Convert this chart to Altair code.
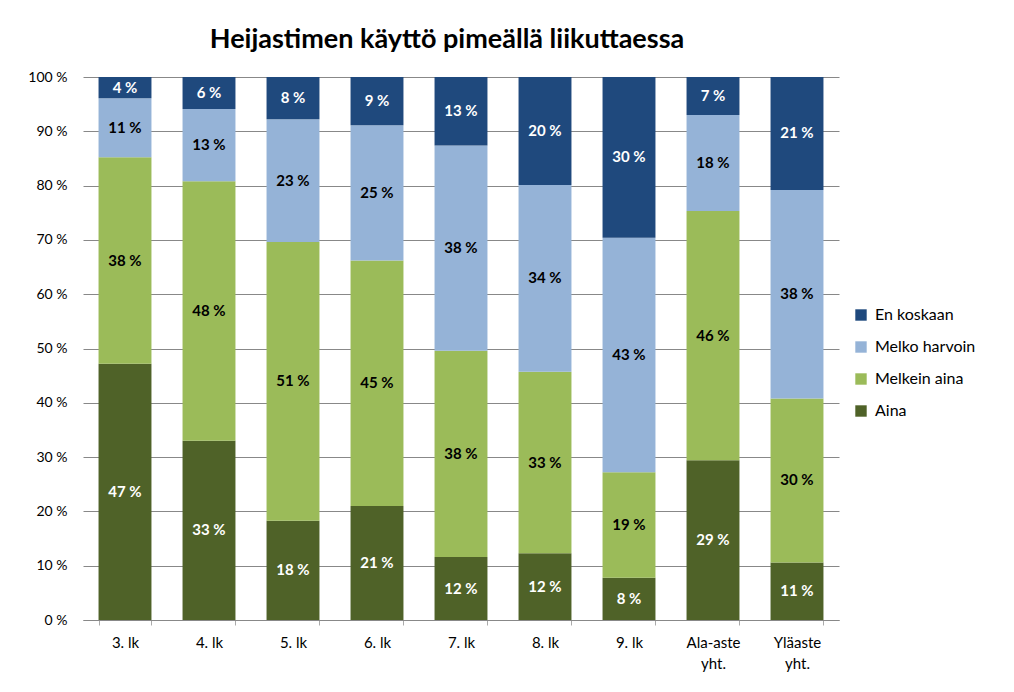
import altair as alt
import pandas as pd

categories = ["3. lk", "4. lk", "5. lk", "6. lk", "7. lk", "8. lk", "9. lk",
              "Ala-aste yht.", "Yläaste yht."]
series = ["En koskaan", "Melko harvoin", "Melkein aina", "Aina"]
colors = ["#1F497D", "#95B3D7", "#9BBB59", "#4F6228"]
text_colors = ["white", "black", "black", "white"]

aina = [47.2, 33.0, 18.3, 21.0, 11.6, 12.3, 7.8, 29.4, 10.6]
melkein_aina = [38.0, 47.8, 51.3, 45.2, 38.0, 33.4, 19.4, 45.9, 30.2]
melko_harvoin = [10.9, 13.3, 22.6, 24.9, 37.8, 34.4, 43.2, 17.7, 38.4]
en_koskaan = [3.9, 5.9, 7.8, 8.9, 12.6, 19.9, 29.6, 7.0, 20.8]

y_ticks = [0, 10, 20, 30, 40, 50, 60, 70, 80, 90, 100]

values_by_series = {
    "Aina": aina,
    "Melkein aina": melkein_aina,
    "Melko harvoin": melko_harvoin,
    "En koskaan": en_koskaan,
}
stack_order = {"Aina": 1, "Melkein aina": 2, "Melko harvoin": 3, "En koskaan": 4}

rows = []
for s, vals in values_by_series.items():
    for c, v in zip(categories, vals):
        rows.append({
            "cat": c, "series": s, "value": v, "ord": stack_order[s],
            "tcol": text_colors[series.index(s)],
        })
df = pd.DataFrame(rows)

FONT = "Lato"

base = alt.Chart(df).transform_stack(
    stack="value", groupby=["cat"], as_=["y0", "y1"],
    sort=[alt.SortField("ord", order="ascending")],
).transform_calculate(
    ymid="(datum.y0 + datum.y1) / 2",
    label="format(datum.value, '.0f') + ' %'",
)

x_enc = alt.X(
    "cat:N", sort=categories, title=None,
    scale=alt.Scale(paddingInner=0.37, paddingOuter=0.185),
    axis=alt.Axis(
        labelAngle=0, labelFontSize=15, labelFont=FONT, labelColor="black",
        labelPadding=10, tickBand="extent", tickSize=5, tickColor="#aaaaaa",
        domainColor="#888888", grid=False, labelLineHeight=21,
        labelExpr="indexof(datum.label, 'yht') > 0 ? split(datum.label, ' ') : datum.label",
    ),
)

bars = base.mark_bar().encode(
    x=x_enc,
    y=alt.Y(
        "y0:Q", title=None,
        scale=alt.Scale(domain=[0, 100], nice=False),
        axis=alt.Axis(
            values=y_ticks, grid=True, gridColor="#888888", domain=False,
            ticks=False, labelPadding=16, labelFontSize=14, labelFont=FONT,
            labelColor="black", labelExpr="datum.value + ' %'",
        ),
    ),
    y2="y1:Q",
    color=alt.Color(
        "series:N",
        scale=alt.Scale(domain=series, range=colors),
        legend=alt.Legend(
            title=None, orient="none", legendX=770, legendY=230,
            symbolType="square", symbolSize=130, symbolStrokeWidth=0,
            labelFontSize=16, labelFont=FONT, labelColor="black",
            rowPadding=16, labelOffset=6,
        ),
    ),
)

texts = base.mark_text(fontSize=15, fontWeight="bold", font=FONT).encode(
    x=alt.X("cat:N", sort=categories),
    y=alt.Y("ymid:Q"),
    text="label:N",
    color=alt.Color("tcol:N", scale=None),
)

chart = alt.layer(bars, texts).properties(
    width=756, height=543,
    title=alt.Title(
        "Heijastimen käyttö pimeällä liikuttaessa",
        fontSize=27, font=FONT, fontWeight="bold", color="black",
        anchor="middle", dx=-14, offset=16,
    ),
    autosize=alt.AutoSizeParams(type="none"),
    padding={"left": 75, "top": 69, "right": 167, "bottom": 64},
).configure_view(stroke=None)

chart.save("out.html", embed_options={"renderer": "svg", "actions": False})
